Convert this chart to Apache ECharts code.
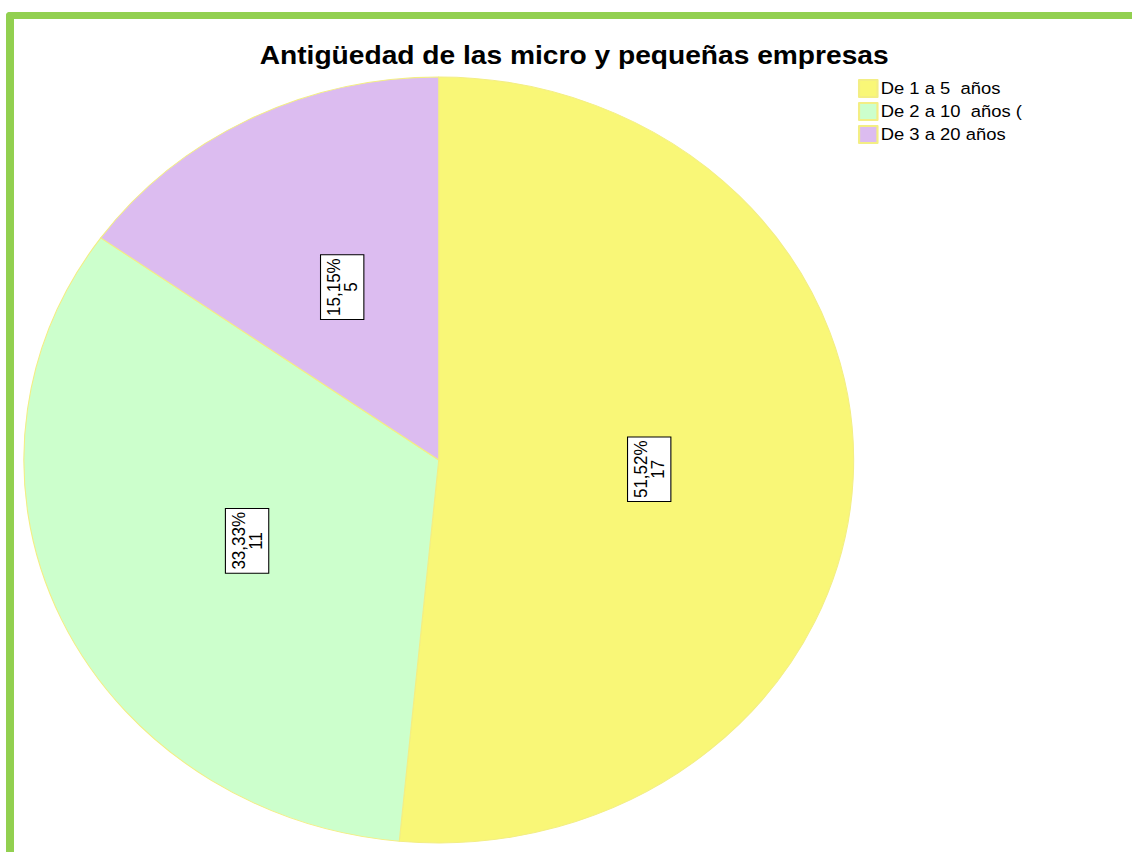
<!DOCTYPE html>
<html>
<head>
<meta charset="utf-8">
<title>Antigüedad de las micro y pequeñas empresas</title>
<script src="https://cdn.jsdelivr.net/npm/echarts@6/dist/echarts.min.js"></script>
<style>
    html,body{margin:0;padding:0;background:#fff;overflow:hidden;}
    #frame{position:absolute;left:6px;top:12px;width:1200px;height:900px;
        border-left:8px solid #92d050;border-top:7px solid #92d050;border-top-left-radius:4px;}
    /* the original picture is stretched horizontally, so is the chart */
    #main{position:absolute;left:0;top:0;width:1045px;height:852px;
        transform:scaleX(1.0833);transform-origin:0 0;}
</style>
</head>
<body>
<div id="frame"></div>
<div id="main"></div>
<script>
var categories=['De 1 a 5  años','De 2 a 10  años (','De 3 a 20 años'];
var counts=[17,11,5];
var colors=['#f9f777','#ccffcc','#dcbcf0'];

function pieChart() {
    var myChart=echarts.init(document.getElementById('main'),null,{renderer:'svg'});
    var data=[];
    for(var i=0;i<categories.length;i++){
        data.push({name:categories[i],value:counts[i],itemStyle:{color:colors[i]}});
    }
    var option={
        backgroundColor:'transparent',
        animation:false,
        title:{
            text:'Antigüedad de las micro y pequeñas empresas',
            left:530,
            top:42,
            padding:0,
            textAlign:'center',
            textStyle:{
                fontFamily:'Liberation Sans',
                fontWeight:'bold',
                fontSize:26,
                color:'#000'
            }
        },
        legend:{
            orient:'vertical',
            left:792,
            top:79,
            padding:0,
            itemWidth:17,
            itemHeight:17,
            itemGap:4,
            icon:'rect',
            data:categories,
            textStyle:{
                fontFamily:'Liberation Sans',
                fontSize:17,
                lineHeight:18,
                color:'#000',
                padding:[0,0,0,-2]
            }
        },
        series:[{
            name:'Antigüedad',
            type:'pie',
            center:[405,460],
            radius:383,
            startAngle:90,
            clockwise:true,
            itemStyle:{
                borderColor:'#f3ee84',
                borderWidth:1
            },
            emphasis:{disabled:true},
            label:{
                show:true,
                position:'inside',
                rotate:90,
                fontFamily:'Liberation Sans',
                fontSize:17,
                lineHeight:16,
                color:'#000',
                backgroundColor:'#fff',
                borderColor:'#000',
                borderWidth:1,
                padding:[4,3,3,3],
                align:'center',
                formatter:function (p) {
                    return p.percent.toFixed(2).replace('.',',')+'%\n'+p.value;
                }
            },
            labelLine:{show:false},
            data:data
        }]
    };
    myChart.setOption(option);
}
pieChart();
</script>
</body>
</html>
